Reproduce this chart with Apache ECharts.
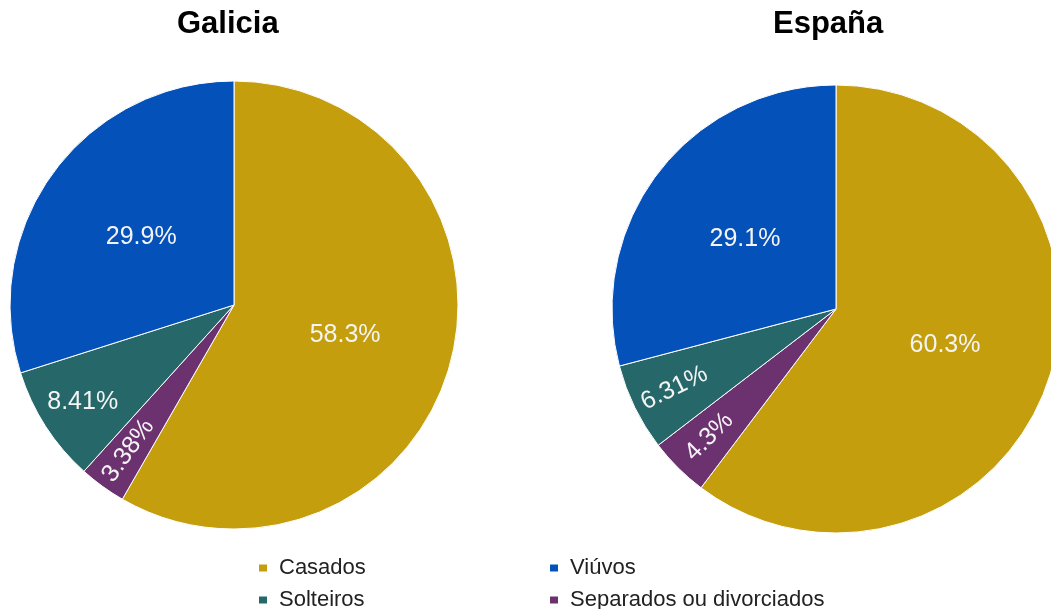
<!DOCTYPE html>
<html>
<head>
<meta charset="utf-8">
<script src="https://cdn.jsdelivr.net/npm/echarts@6/dist/echarts.min.js"></script>
<style>
  html, body { margin: 0; padding: 0; background: #fff; }
  #chart { width: 1051px; height: 609px; }
</style>
</head>
<body>
<div id="chart"></div>
<script>
// categorías (orden das porcións, en sentido horario desde arriba)
var categories = ["Casados", "Separados ou divorciados", "Solteiros", "Viúvos"];
var galicia = [58.3, 3.38, 8.41, 29.9];
var espana = [60.3, 4.3, 6.31, 29.1];
var titles = ["Galicia", "España"];
var legendCol1 = ["Casados", "Solteiros"];
var legendCol2 = ["Viúvos", "Separados ou divorciados"];
var colors = ["#c49e0c", "#6c3270", "#26676a", "#0351b9"];

(function () {
  var myChart = echarts.init(document.getElementById("chart"));
  var font = "Arial, 'Liberation Sans', sans-serif";
  var R = 224;

  function colorOf(name) {
    return colors[categories.indexOf(name)];
  }

  // porción principal + capa transparente para as etiquetas das porcións pequenas
  function pieSeries(values, center) {
    var main = {
      type: "pie",
      center: center,
      radius: [0, R],
      startAngle: 90,
      clockwise: true,
      silent: true,
      avoidLabelOverlap: false,
      itemStyle: { borderColor: "#fff", borderWidth: 1 },
      label: {
        position: "inside",
        color: "#f4f4f4",
        fontFamily: font,
        fontSize: 25,
        formatter: "{c}%"
      },
      labelLine: { show: false },
      emphasis: { disabled: true },
      data: values.map(function (v, i) {
        return {
          name: categories[i],
          value: v,
          itemStyle: { color: colors[i] },
          label: { show: v >= 10 }
        };
      })
    };
    var overlay = {
      type: "pie",
      center: center,
      radius: [130, R],
      startAngle: 90,
      clockwise: true,
      silent: true,
      avoidLabelOverlap: false,
      itemStyle: { color: "rgba(0,0,0,0)", borderWidth: 0 },
      label: {
        position: "inside",
        color: "#f4f4f4",
        fontFamily: font,
        fontSize: 25,
        formatter: "{c}%"
      },
      labelLine: { show: false },
      emphasis: { disabled: true },
      data: values.map(function (v, i) {
        return {
          name: categories[i],
          value: v,
          label: { show: v < 10, rotate: v < 7 ? "radial" : 0 }
        };
      })
    };
    return [main, overlay];
  }

  function legendOf(names, left) {
    return {
      orient: "vertical",
      left: left,
      top: 552,
      height: 80,
      icon: "rect",
      itemWidth: 10,
      itemHeight: 9,
      itemGap: 10,
      selectedMode: false,
      textStyle: {
        color: "#222",
        fontFamily: font,
        fontSize: 22,
        lineHeight: 21,
        padding: [0, 0, 0, 6]
      },
      data: names.map(function (n) {
        return { name: n, itemStyle: { color: colorOf(n) } };
      })
    };
  }

  var option = {
    backgroundColor: "#fff",
    animation: false,
    title: [
      {
        text: titles[0],
        left: 172,
        top: 4,
        textStyle: { fontFamily: font, fontSize: 31, fontWeight: "bold", color: "#000" }
      },
      {
        text: titles[1],
        left: 768,
        top: 4,
        textStyle: { fontFamily: font, fontSize: 31, fontWeight: "bold", color: "#000" }
      }
    ],
    legend: [legendOf(legendCol1, 252), legendOf(legendCol2, 543)],
    series: pieSeries(galicia, [234, 305]).concat(pieSeries(espana, [836, 309]))
  };

  myChart.setOption(option);
  window.addEventListener("resize", function () {
    myChart.resize();
  });
})();
</script>
</body>
</html>
